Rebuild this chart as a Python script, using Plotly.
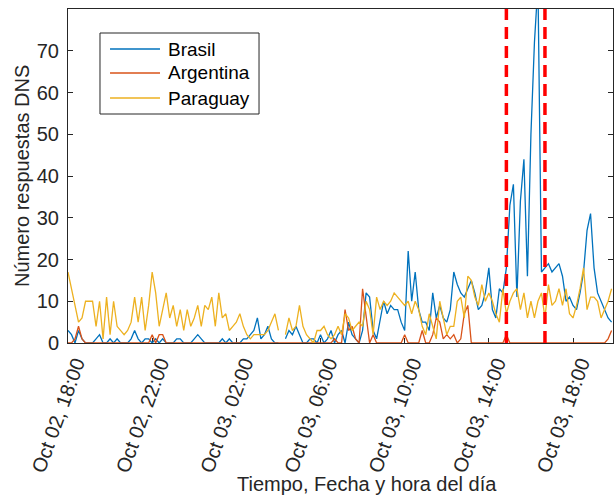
import plotly.graph_objects as go
import pandas as pd

# ---- data (10-minute samples starting Oct 02 18:00) ----
inicio = "2019-10-02 18:00"
fin_eje = "2019-10-03 19:54"
tiempo = pd.date_range(inicio, periods=156, freq="10min")

series = ["Brasil", "Argentina", "Paraguay"]

brasil = [
    3, 2, 0, 3, 1, 0, 0, 0, 1, 2,
    0, 0, 1, 0, 1, 0, 0, 0, 1, 3,
    1, 0, 1, 1, 0, 1, 0, 1, 0, 0,
    0, 1, 1, 0, 0, 0, 1, 2, 1, 0,
    0, 0, 0, 0, 1, 0, 1, 0, 0, 0,
    1, 1, 2, 3, 6, 1, 2, 4, 1, 0,
    0, None, 1, 3, 2, 4, 2, 0, 0, 1,
    1, 0, 2, 0, 1, 3, 0, 2, 3, 0,
    5, 2, 1, 0, 3, 12, 11, 3, 1, 6,
    10, 7, 9, 8, 8, 5, 3, 22, 10, 17,
    8, 5, 5, 3, 12, 6, 9, 6, 5, 8,
    17, 14, 12, 11, 13, 15, 12, 8, 9, 12,
    18, 8, 6, 13, 12, 18, 33, 38, 11, 34,
    44, 16, 50, 72, 86, 17, 18, 19, 17, 18,
    19, 16, 10, 11, 9, 8, 12, 17, 27, 31,
    18, 12, 10, 8, 6, 5,
]

argentina = [
    0, 0, 1, 4, 1, 0, 0, 0, 0, 0,
    0, 0, 0, 0, 0, 0, 0, 0, 0, 0,
    0, 0, 0, 0, 2, 0, 2, 2, 0, 0,
    0, 0, 0, 0, 0, 0, 0, 0, 0, 0,
    0, 0, 0, 0, 0, 0, 0, 0, 0, 0,
    0, 0, 0, 0, 0, 0, 0, 0, 0, 0,
    0, 0, 0, 0, 0, 0, 0, 0, 0, 0,
    0, 0, 0, 0, 0, 0, 1, 0, 0, 8,
    3, 4, 1, 0, 13, 6, 0, 2, 0, 0,
    0, 0, 0, 0, 0, 0, 2, 0, 0, 0,
    0, 3, 0, 0, 2, 6, 5, 1, 2, 1,
    2, 0, 1, 7, 9, 0, 0, 0, 0, 0,
    0, 0, 0, 0, 0, 2, 0, 0, 0, 0,
    0, 0, 0, 0, 0, 0, 0, 0, 0, 0,
    0, 0, 0, 0, 0, 0, 0, 0, 0, 0,
    0, 0, 0, 0, 1, 3,
]

paraguay = [
    17, 13, 9, 5, 6, 10, 10, 10, 4, 10,
    1, 11, 2, 10, 4, 3, 2, 3, 5, 11,
    5, 11, 3, 9, 17, 12, 4, 8, 12, 6,
    9, 4, 8, 3, 8, 4, 6, 9, 4, 9,
    8, 11, 4, 12, 6, 7, 3, 4, 5, 7,
    4, 2, 1, 2, 2, 2, 2, 3, 5, 7,
    3, None, 2, 6, 3, 4, 9, 4, 2, 1,
    0, 3, 3, 4, 2, 1, 2, 4, 2, 7,
    6, 3, 4, 5, 4, 10, 8, 2, 11, 8,
    10, 9, 10, 12, 11, 10, 9, 10, 7, 10,
    8, 4, 2, 7, 4, 1, 10, 6, 2, 4,
    4, 10, 11, 6, 16, 15, 11, 9, 14, 10,
    12, 10, 7, 5, 13, 7, 10, 12, 13, 8,
    12, 6, 10, 6, 10, 12, 6, 14, 9, 10,
    13, 9, 13, 7, 6, 9, 13, 18, 8, 11,
    11, 10, 6, 8, 10, 13,
]

eventos = ["2019-10-03 14:50", "2019-10-03 16:40"]

y_ticks = [0, 10, 20, 30, 40, 50, 60, 70]

colores = ["#0072BD", "#D95319", "#EDB120"]
texto = "#262626"
fuente = "Liberation Sans, Arial, sans-serif"

fig = go.Figure()
for nombre, valores, color in zip(series, [brasil, argentina, paraguay], colores):
    fig.add_trace(go.Scatter(
        x=tiempo, y=valores, mode="lines", name=nombre,
        line=dict(color=color, width=1.3),
        connectgaps=False, showlegend=False,
    ))

shapes = []
for ev in eventos:
    shapes.append(dict(
        type="line", xref="x", yref="paper", x0=ev, x1=ev, y0=0, y1=1,
        line=dict(color="#FF0000", width=3.5, dash="12px,7px"), layer="above",
    ))

# manual legend (MATLAB style)
shapes.append(dict(type="rect", xref="paper", yref="paper",
                   x0=0.0587, x1=0.3505, y0=0.6856, y1=0.9281,
                   line=dict(color=texto, width=1), fillcolor="white", layer="above"))
ann = []
filas = [0.8802, 0.8084, 0.7335]
for nombre, color, yy in zip(series, colores, filas):
    shapes.append(dict(type="line", xref="paper", yref="paper",
                       x0=0.0771, x1=0.1688, y0=yy, y1=yy,
                       line=dict(color=color, width=1.3), layer="above"))
    ann.append(dict(text=nombre, xref="paper", yref="paper", x=0.1798, y=yy,
                    xanchor="left", yanchor="middle", showarrow=False,
                    font=dict(family=fuente, size=19, color="#000000")))

ann.append(dict(text="Tiempo, Fecha y hora del día", xref="paper", yref="paper",
                x=0.5486, y=-0.422, xanchor="center", yanchor="middle",
                showarrow=False, font=dict(family=fuente, size=20, color=texto)))
ann.append(dict(text="Número respuestas DNS", xref="paper", yref="paper",
                x=-0.0844, y=0.5, xanchor="center", yanchor="middle", textangle=-90,
                showarrow=False, font=dict(family=fuente, size=20, color=texto)))

fig.update_layout(
    width=614, height=497,
    margin=dict(l=68, r=1, t=9, b=154),
    paper_bgcolor="white", plot_bgcolor="white",
    font=dict(family=fuente, size=20, color=texto),
    shapes=shapes, annotations=ann,
    showlegend=False,
    xaxis=dict(
        type="date", range=[inicio, fin_eje],
        tick0=inicio, dtick=4 * 3600 * 1000,
        tickformat="%b %d, %H:%M", tickangle=-70,
        ticks="inside", ticklen=5, tickcolor=texto,
        showline=True, linecolor=texto, linewidth=1, mirror=True,
        showgrid=False, zeroline=False, layer="below traces",
        tickfont=dict(family=fuente, size=20, color=texto),
        ticklabelshift=8,
    ),
    yaxis=dict(
        range=[0, 80], tickvals=y_ticks,
        ticks="inside", ticklen=5, tickcolor=texto,
        showline=True, linecolor=texto, linewidth=1, mirror="ticks",
        showgrid=False, zeroline=False, layer="below traces",
        tickfont=dict(family=fuente, size=20, color=texto),
        ticklabelstandoff=4,
    ),
)

fig.write_html(
    "out.html",
    config={"displayModeBar": False},
    post_script="document.body.style.margin='0';document.body.style.overflow='hidden';",
)
